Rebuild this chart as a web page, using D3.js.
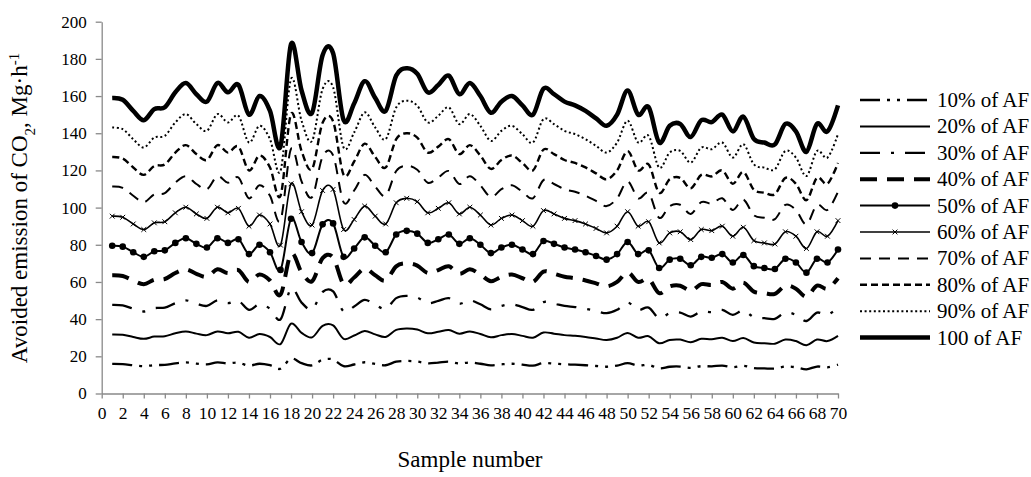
<!DOCTYPE html>
<html><head><meta charset="utf-8">
<script src="https://cdn.jsdelivr.net/npm/d3@7"></script>
<style>
body{margin:0;background:#fff}
svg{display:block}
text{font-family:"Liberation Serif","Times New Roman",serif;fill:#000}
</style>
</head><body>
<svg id="chart" width="1031" height="477"></svg>
<script>
// ---------- DATA ----------
const samples = [1,2,3,4,5,6,7,8,9,10,11,12,13,14,15,16,17,18,19,20,21,22,23,24,25,26,27,28,29,30,31,32,33,34,35,36,37,38,39,40,41,42,43,44,45,46,47,48,49,50,51,52,53,54,55,56,57,58,59,60,61,62,63,64,65,66,67,68,69,70];

const seriesNames = ["10% of AF","20% of AF","30% of AF","40% of AF","50% of AF","60% of AF","70% of AF","80% of AF","90% of AF","100 of AF"];

const af10 = [15.9,15.8,15.2,14.7,15.3,15.4,16.2,16.7,16.1,15.7,16.7,16.2,16.6,15.0,16.0,15.2,13.3,18.8,16.3,15.1,18.2,18.3,14.7,15.6,16.8,15.9,15.2,17.1,17.5,17.2,16.2,16.6,17.1,16.1,16.7,16.0,15.1,15.7,16.0,15.5,15.0,16.4,16.1,15.7,15.5,15.2,14.8,14.4,15.0,16.3,15.0,15.4,13.5,14.4,14.5,13.8,14.7,14.6,15.0,14.1,14.9,13.7,13.5,13.4,14.5,14.1,13.0,14.5,14.1,15.5];
const af20 = [31.8,31.6,30.4,29.4,30.6,30.8,32.4,33.4,32.2,31.4,33.4,32.4,33.2,30.0,32.0,30.4,26.6,37.6,32.6,30.2,36.4,36.6,29.4,31.2,33.6,31.8,30.4,34.2,35.0,34.4,32.4,33.2,34.2,32.2,33.4,32.0,30.2,31.4,32.0,31.0,30.0,32.8,32.2,31.4,31.0,30.4,29.6,28.8,30.0,32.6,30.0,30.8,27.0,28.8,29.0,27.6,29.4,29.2,30.0,28.2,29.8,27.4,27.0,26.8,29.0,28.2,26.0,29.0,28.2,31.0];
const af30 = [47.7,47.4,45.6,44.1,45.9,46.2,48.6,50.1,48.3,47.1,50.1,48.6,49.8,45.0,48.0,45.6,39.9,56.4,48.9,45.3,54.6,54.9,44.1,46.8,50.4,47.7,45.6,51.3,52.5,51.6,48.6,49.8,51.3,48.3,50.1,48.0,45.3,47.1,48.0,46.5,45.0,49.2,48.3,47.1,46.5,45.6,44.4,43.2,45.0,48.9,45.0,46.2,40.5,43.2,43.5,41.4,44.1,43.8,45.0,42.3,44.7,41.1,40.5,40.2,43.5,42.3,39.0,43.5,42.3,46.5];
const af40 = [63.6,63.2,60.8,58.8,61.2,61.6,64.8,66.8,64.4,62.8,66.8,64.8,66.4,60.0,64.0,60.8,53.2,75.2,65.2,60.4,72.8,73.2,58.8,62.4,67.2,63.6,60.8,68.4,70.0,68.8,64.8,66.4,68.4,64.4,66.8,64.0,60.4,62.8,64.0,62.0,60.0,65.6,64.4,62.8,62.0,60.8,59.2,57.6,60.0,65.2,60.0,61.6,54.0,57.6,58.0,55.2,58.8,58.4,60.0,56.4,59.6,54.8,54.0,53.6,58.0,56.4,52.0,58.0,56.4,62.0];
const af50 = [79.5,79,76,73.5,76.5,77,81,83.5,80.5,78.5,83.5,81,83,75,80,76,66.5,94,81.5,75.5,91,91.5,73.5,78,84,79.5,76,85.5,87.5,86,81,83,85.5,80.5,83.5,80,75.5,78.5,80,77.5,75,82,80.5,78.5,77.5,76,74,72,75,81.5,75,77,67.5,72,72.5,69,73.5,73,75,70.5,74.5,68.5,67.5,67,72.5,70.5,65,72.5,70.5,77.5];
const af60 = [95.4,94.8,91.2,88.2,91.8,92.4,97.2,100.2,96.6,94.2,100.2,97.2,99.6,90.0,96.0,91.2,79.8,112.8,97.8,90.6,109.2,109.8,88.2,93.6,100.8,95.4,91.2,102.6,105.0,103.2,97.2,99.6,102.6,96.6,100.2,96.0,90.6,94.2,96.0,93.0,90.0,98.4,96.6,94.2,93.0,91.2,88.8,86.4,90.0,97.8,90.0,92.4,81.0,86.4,87.0,82.8,88.2,87.6,90.0,84.6,89.4,82.2,81.0,80.4,87.0,84.6,78.0,87.0,84.6,93.0];
const af70 = [111.3,110.6,106.4,102.9,107.1,107.8,113.4,116.9,112.7,109.9,116.9,113.4,116.2,105.0,112.0,106.4,93.1,131.6,114.1,105.7,127.4,128.1,102.9,109.2,117.6,111.3,106.4,119.7,122.5,120.4,113.4,116.2,119.7,112.7,116.9,112.0,105.7,109.9,112.0,108.5,105.0,114.8,112.7,109.9,108.5,106.4,103.6,100.8,105.0,114.1,105.0,107.8,94.5,100.8,101.5,96.6,102.9,102.2,105.0,98.7,104.3,95.9,94.5,93.8,101.5,98.7,91.0,101.5,98.7,108.5];
const af80 = [127.2,126.4,121.6,117.6,122.4,123.2,129.6,133.6,128.8,125.6,133.6,129.6,132.8,120.0,128.0,121.6,106.4,150.4,130.4,120.8,145.6,146.4,117.6,124.8,134.4,127.2,121.6,136.8,140.0,137.6,129.6,132.8,136.8,128.8,133.6,128.0,120.8,125.6,128.0,124.0,120.0,131.2,128.8,125.6,124.0,121.6,118.4,115.2,120.0,130.4,120.0,123.2,108.0,115.2,116.0,110.4,117.6,116.8,120.0,112.8,119.2,109.6,108.0,107.2,116.0,112.8,104.0,116.0,112.8,124.0];
const af90 = [143.1,142.2,136.8,132.3,137.7,138.6,145.8,150.3,144.9,141.3,150.3,145.8,149.4,135.0,144.0,136.8,119.7,169.2,146.7,135.9,163.8,164.7,132.3,140.4,151.2,143.1,136.8,153.9,157.5,154.8,145.8,149.4,153.9,144.9,150.3,144.0,135.9,141.3,144.0,139.5,135.0,147.6,144.9,141.3,139.5,136.8,133.2,129.6,135.0,146.7,135.0,138.6,121.5,129.6,130.5,124.2,132.3,131.4,135.0,126.9,134.1,123.3,121.5,120.6,130.5,126.9,117.0,130.5,126.9,139.5];
const af100 = [159,158,152,147,153,154,162,167,161,157,167,162,166,150,160,152,133,188,163,151,182,183,147,156,168,159,152,171,175,172,162,166,171,161,167,160,151,157,160,155,150,164,161,157,155,152,148,144,150,163,150,154,135,144,145,138,147,146,150,141,149,137,135,134,145,141,130,145,141,155];

const yTickValues = [0,20,40,60,80,100,120,140,160,180,200];
const xTickValues = [0,2,4,6,8,10,12,14,16,18,20,22,24,26,28,30,32,34,36,38,40,42,44,46,48,50,52,54,56,58,60,62,64,66,68,70];

// ---------- STYLES ----------
const FONT = '"Liberation Serif","Times New Roman",serif';
const seriesData = [af10,af20,af30,af40,af50,af60,af70,af80,af90,af100];
const styles = [
  {w:2.3, dash:"20,7,3,7,3,7", marker:null},
  {w:2,   dash:null, marker:null},
  {w:2.3, dash:"20,11,3,11", marker:null},
  {w:4,   dash:"17,10", marker:null},
  {w:2,   dash:null, marker:"circle"},
  {w:1.6, dash:null, marker:"x"},
  {w:2,   dash:"11,8", marker:null},
  {w:2.4, dash:"7,4", marker:null},
  {w:2,   dash:"2,2.6", marker:null},
  {w:4.5, dash:null, marker:null}
];

// ---------- CHART ----------
const svg = d3.select("#chart");
const x = d3.scaleLinear().domain([0,70]).range([101.7,838]);
const y = d3.scaleLinear().domain([0,200]).range([393.5,21.7]);
const axisColor = "#898989";

// y axis
const gy = svg.append("g").attr("transform","translate(101.7,0)")
  .call(d3.axisLeft(y).tickValues(yTickValues).tickSize(6).tickSizeOuter(0).tickPadding(9));
gy.attr("font-family",FONT).attr("font-size",17);
gy.selectAll("path,line").attr("stroke",axisColor).attr("stroke-width",1.3);
gy.selectAll("text").attr("font-family",FONT).style("font-family",FONT).style("font-size","17px").attr("fill","#000");

// x axis
const gx = svg.append("g").attr("transform","translate(0,393.5)")
  .call(d3.axisBottom(x).tickValues(xTickValues).tickSize(5).tickSizeOuter(0).tickPadding(8));
gx.attr("font-family",FONT).attr("font-size",17.5);
gx.selectAll("path,line").attr("stroke",axisColor).attr("stroke-width",1.3);
gx.selectAll("text").attr("font-family",FONT).style("font-family",FONT).style("font-size","17.5px").attr("fill","#000");

const line = d3.line()
  .x((d,i)=>x(samples[i]))
  .y(d=>y(d))
  .curve(d3.curveCardinal.tension(0));

seriesData.forEach((data,k)=>{
  const st = styles[k];
  svg.append("path").datum(data)
    .attr("d",line)
    .attr("fill","none")
    .attr("stroke","#000")
    .attr("stroke-width",st.w)
    .attr("stroke-dasharray",st.dash)
    .attr("stroke-linejoin","round");
  if(st.marker==="circle"){
    svg.append("g").selectAll("circle").data(data).join("circle")
      .attr("cx",(d,i)=>x(samples[i])).attr("cy",d=>y(d)).attr("r",3.3).attr("fill","#000");
  } else if(st.marker==="x"){
    svg.append("g").selectAll("path").data(data).join("path")
      .attr("d",(d,i)=>{const cx=x(samples[i]),cy=y(d),s=2.4;return `M${cx-s},${cy-s}L${cx+s},${cy+s}M${cx-s},${cy+s}L${cx+s},${cy-s}`;})
      .attr("stroke","#000").attr("stroke-width",1);
  }
});

// legend
const leg = svg.append("g");
seriesNames.forEach((name,k)=>{
  const st = styles[k];
  const ly = 100 + 26.4*k;
  leg.append("line").attr("x1",860).attr("x2",930).attr("y1",ly).attr("y2",ly)
    .attr("stroke","#000").attr("stroke-width",st.w).attr("stroke-dasharray",st.dash);
  if(st.marker==="circle") leg.append("circle").attr("cx",895).attr("cy",ly).attr("r",3.3).attr("fill","#000");
  if(st.marker==="x") leg.append("path").attr("d",`M892.6,${ly-2.4}L897.4,${ly+2.4}M892.6,${ly+2.4}L897.4,${ly-2.4}`).attr("stroke","#000").attr("stroke-width",1);
  leg.append("text").attr("x",937).attr("y",ly+7).style("font-size","21px").text(name);
});

// axis titles
svg.append("text").attr("x",470).attr("y",467).attr("text-anchor","middle").style("font-size","23px").text("Sample number");
const yt = svg.append("text").attr("transform","translate(27,208) rotate(-90)").attr("text-anchor","middle").style("font-size","23px");
yt.append("tspan").text("Avoided emission of CO");
yt.append("tspan").attr("baseline-shift","sub").style("font-size","15px").text("2");
yt.append("tspan").text(", Mg·h");
yt.append("tspan").attr("baseline-shift","super").style("font-size","15px").text("-1");
</script>
</body></html>
